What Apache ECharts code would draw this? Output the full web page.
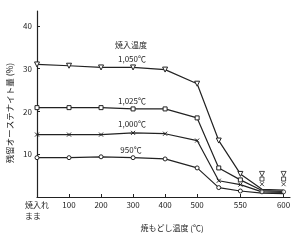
<!DOCTYPE html>
<html>
<head>
<meta charset="utf-8">
<script src="https://cdn.jsdelivr.net/npm/echarts@6/dist/echarts.min.js"></script>
<style>html,body{margin:0;padding:0;background:#fff;}#c{width:300px;height:241px;}</style>
</head>
<body>
<div id="c"></div>
<script>
// Tempering temperatures (°C); 0 = as-quenched
const temps = [0, 100, 200, 300, 400, 500, 525, 550];
const tailTemps = [575, 600];
// Retained austenite (%) per quenching temperature
const s1050 = [31.0, 30.7, 30.3, 30.3, 29.8, 26.5, 13.2, 5.4];
const s1025 = [20.9, 20.9, 20.9, 20.6, 20.6, 18.5, 6.8, 4.0];
const s1000 = [14.6, 14.6, 14.6, 15.0, 14.8, 13.2, 3.8, 2.9];
const s950  = [9.2, 9.2, 9.4, 9.2, 8.9, 6.8, 2.2, 1.4];
// line values at 575 / 600 (bottom band)
const tail1050 = [1.8, 1.6];
const tail1025 = [1.5, 1.3];
const tail1000 = [1.2, 1.1];
const tail950  = [0.9, 0.8];
// stacked marker values drawn at 575 / 600
const mark1050 = [5.4, 5.4];
const mark1025 = [4.2, 4.2];
const mark1000 = [3.0, 3.0];
const mark950  = [1.2, 1.2];
const seriesNames = ['1,050℃', '1,025℃', '1,000℃', '950℃'];
const xTickTemps = [0, 100, 200, 300, 400, 500, 550, 600];
const xTickLabels = ['焼入れ\nまま　', '100', '200', '300', '400', '500', '550', '600'];
const yTicks = [10, 20, 30, 40];

// broken temperature scale: 500–600 °C is expanded
function sx(t) { return t <= 500 ? t : 500 + (t - 500) * 2.7; }

const col = '#222';
const X_PATH = 'path://M0,0L10,10M10,0L0,10';
const symbols = [
  { symbol: 'triangle', rotate: 180, size: 5 },
  { symbol: 'rect', rotate: 0, size: 4 },
  { symbol: X_PATH, rotate: 0, size: 4 },
  { symbol: 'circle', rotate: 0, size: 4 }
];
const mains = [s1050, s1025, s1000, s950];
const tails = [tail1050, tail1025, tail1000, tail950];
const marks = [mark1050, mark1025, mark1000, mark950];

const series = [];
mains.forEach((arr, i) => {
  const data = arr.map((v, k) => [sx(temps[k]), v]);
  tails[i].forEach((v, k) => data.push({ value: [sx(tailTemps[k]), v], symbol: 'none' }));
  series.push({
    name: seriesNames[i], type: 'line', data: data,
    symbol: symbols[i].symbol, symbolRotate: symbols[i].rotate, symbolSize: symbols[i].size,
    showAllSymbol: true,
    lineStyle: { color: col, width: 1.2 },
    itemStyle: { color: '#fff', borderColor: col, borderWidth: 1 },
    z: 3
  });
  series.push({
    name: seriesNames[i] + '_m', type: 'scatter',
    data: marks[i].map((v, k) => [sx(tailTemps[k]), v]),
    symbol: symbols[i].symbol, symbolRotate: symbols[i].rotate, symbolSize: symbols[i].size,
    itemStyle: { color: '#fff', borderColor: col, borderWidth: 1 },
    z: 4
  });
});

const font = '"Noto Sans CJK JP", "Noto Sans", sans-serif';
const chart = echarts.init(document.getElementById('c'), null, { renderer: 'canvas' });
chart.setOption({
  animation: false,
  backgroundColor: '#fff',
  grid: { left: 37, top: 11, width: 253, height: 186, containLabel: false },
  xAxis: {
    type: 'value', min: 0, max: 790,
    axisLine: { show: true, lineStyle: { color: col, width: 1.2 } },
    axisTick: { show: true, inside: true, length: 3, lineStyle: { color: col },
      customValues: xTickTemps.filter(t => t > 0).map(sx) },
    axisLabel: {
      customValues: xTickTemps.map(sx),
      formatter: function (v) {
        const i = xTickTemps.map(sx).indexOf(v);
        return i >= 0 ? xTickLabels[i] : '';
      },
      color: col, fontSize: 8, fontFamily: font, margin: 2, lineHeight: 11
    },
    splitLine: { show: false }
  },
  yAxis: {
    type: 'value', min: 0, max: 43.5,
    axisLine: { show: true, lineStyle: { color: col, width: 1.2 } },
    axisTick: { show: true, inside: true, length: 3, lineStyle: { color: col }, customValues: yTicks },
    axisLabel: { customValues: yTicks, color: col, fontSize: 8, fontFamily: font, margin: 5 },
    splitLine: { show: false }
  },
  graphic: [
    { type: 'text', x: 131, y: 45, style: { text: '焼入温度', font: '8px ' + font, fill: col, align: 'center', verticalAlign: 'middle' } },
    { type: 'text', x: 132, y: 59, style: { text: '1,050℃', font: '8px ' + font, fill: col, align: 'center', verticalAlign: 'middle' } },
    { type: 'text', x: 132, y: 101, style: { text: '1,025℃', font: '8px ' + font, fill: col, align: 'center', verticalAlign: 'middle' } },
    { type: 'text', x: 132, y: 124, style: { text: '1,000℃', font: '8px ' + font, fill: col, align: 'center', verticalAlign: 'middle' } },
    { type: 'text', x: 131, y: 150, style: { text: '950℃', font: '8px ' + font, fill: col, align: 'center', verticalAlign: 'middle' } },
    { type: 'text', x: 172, y: 228, style: { text: '焼もどし温度 (℃)', font: '8px ' + font, fill: col, align: 'center', verticalAlign: 'middle' } },
    { type: 'text', x: 10, y: 113, rotation: Math.PI / 2, style: { text: '残留オーステナイト量 (%)', font: '8.5px ' + font, fill: col, align: 'center', verticalAlign: 'middle' } }
  ],
  series: series
});
</script>
</body>
</html>
